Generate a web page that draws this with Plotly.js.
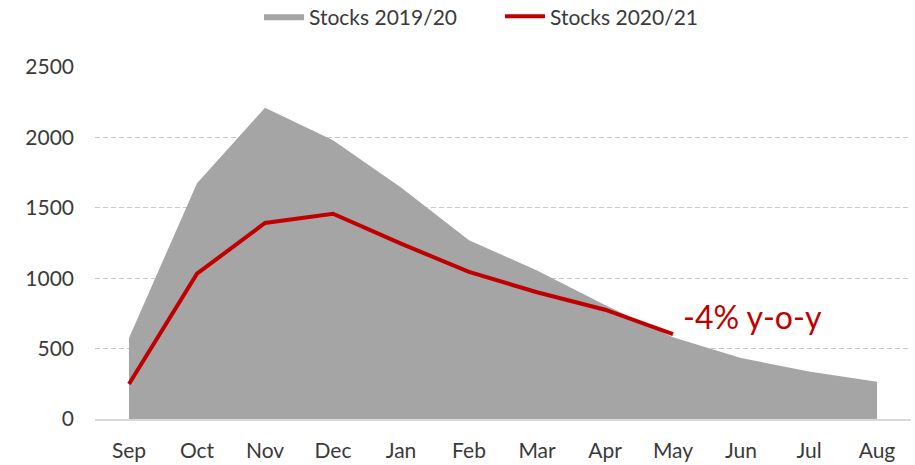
<!DOCTYPE html>
<html>
<head>
<meta charset="utf-8">
<script src="https://cdn.plot.ly/plotly-3.0.1.min.js"></script>
<style>html,body{margin:0;padding:0;background:#fff;}#chart{width:915px;height:465px;}</style>
</head>
<body>
<div id="chart"></div>
<script>
const months = ["Sep","Oct","Nov","Dec","Jan","Feb","Mar","Apr","May","Jun","Jul","Aug"];
const stocks1920 = [575, 1675, 2210, 1980, 1645, 1270, 1055, 810, 580, 433, 338, 265];
const months2021 = ["Sep","Oct","Nov","Dec","Jan","Feb","Mar","Apr","May"];
const stocks2021 = [249, 1032, 1392, 1458, 1245, 1045, 900, 776, 602];
const yTicks = [0, 500, 1000, 1500, 2000, 2500];
const noteText = "-4% y-o-y";

const font = "Lato, Liberation Sans, Arial, sans-serif";

const data = [
  {
    x: months, y: stocks1920, type: "scatter", mode: "lines",
    name: "Stocks 2019/20", fill: "tozeroy", fillcolor: "#A5A5A5",
    line: {width: 0, color: "#A5A5A5"}
  },
  {
    x: months2021, y: stocks2021, type: "scatter", mode: "lines",
    name: "Stocks 2020/21", line: {width: 4, color: "#C00000"}
  }
];

const layout = {
  width: 915, height: 465,
  margin: {l: 95, r: 4, t: 67, b: 46, autoexpand: false},
  paper_bgcolor: "#fff", plot_bgcolor: "#fff",
  font: {family: font, size: 21, color: "#3a3a3a"},
  showlegend: true,
  legend: {orientation: "h", x: (264 - 95 - 5) / 816, xanchor: "left", y: 1.143, yanchor: "middle",
           font: {family: font, size: 21, color: "#3a3a3a"}, traceorder: "normal",
           itemwidth: 40, entrywidth: 186, entrywidthmode: "pixels"},
  xaxis: {type: "category", categoryorder: "array", categoryarray: months,
          range: [-0.5, 11.5], showgrid: false, zeroline: false,
          showline: true, linecolor: "#D9D9D9", linewidth: 1.5,
          ticks: "", ticklabelstandoff: 12, fixedrange: true},
  yaxis: {range: [0, 2500], tickvals: yTicks, showgrid: true,
          gridcolor: "#C8C8C8", griddash: "5px,3px", gridwidth: 1,
          zeroline: false, showline: false, ticks: "", ticklabelstandoff: 20, fixedrange: true},
  annotations: [{
    x: "May", y: 725, xref: "x", yref: "y", text: noteText, showarrow: false,
    xanchor: "left", yanchor: "middle", xshift: 8,
    font: {family: font, size: 32, color: "#C00000"}
  }]
};

Plotly.newPlot("chart", data, layout, {displayModeBar: false, staticPlot: true});
</script>
</body>
</html>
